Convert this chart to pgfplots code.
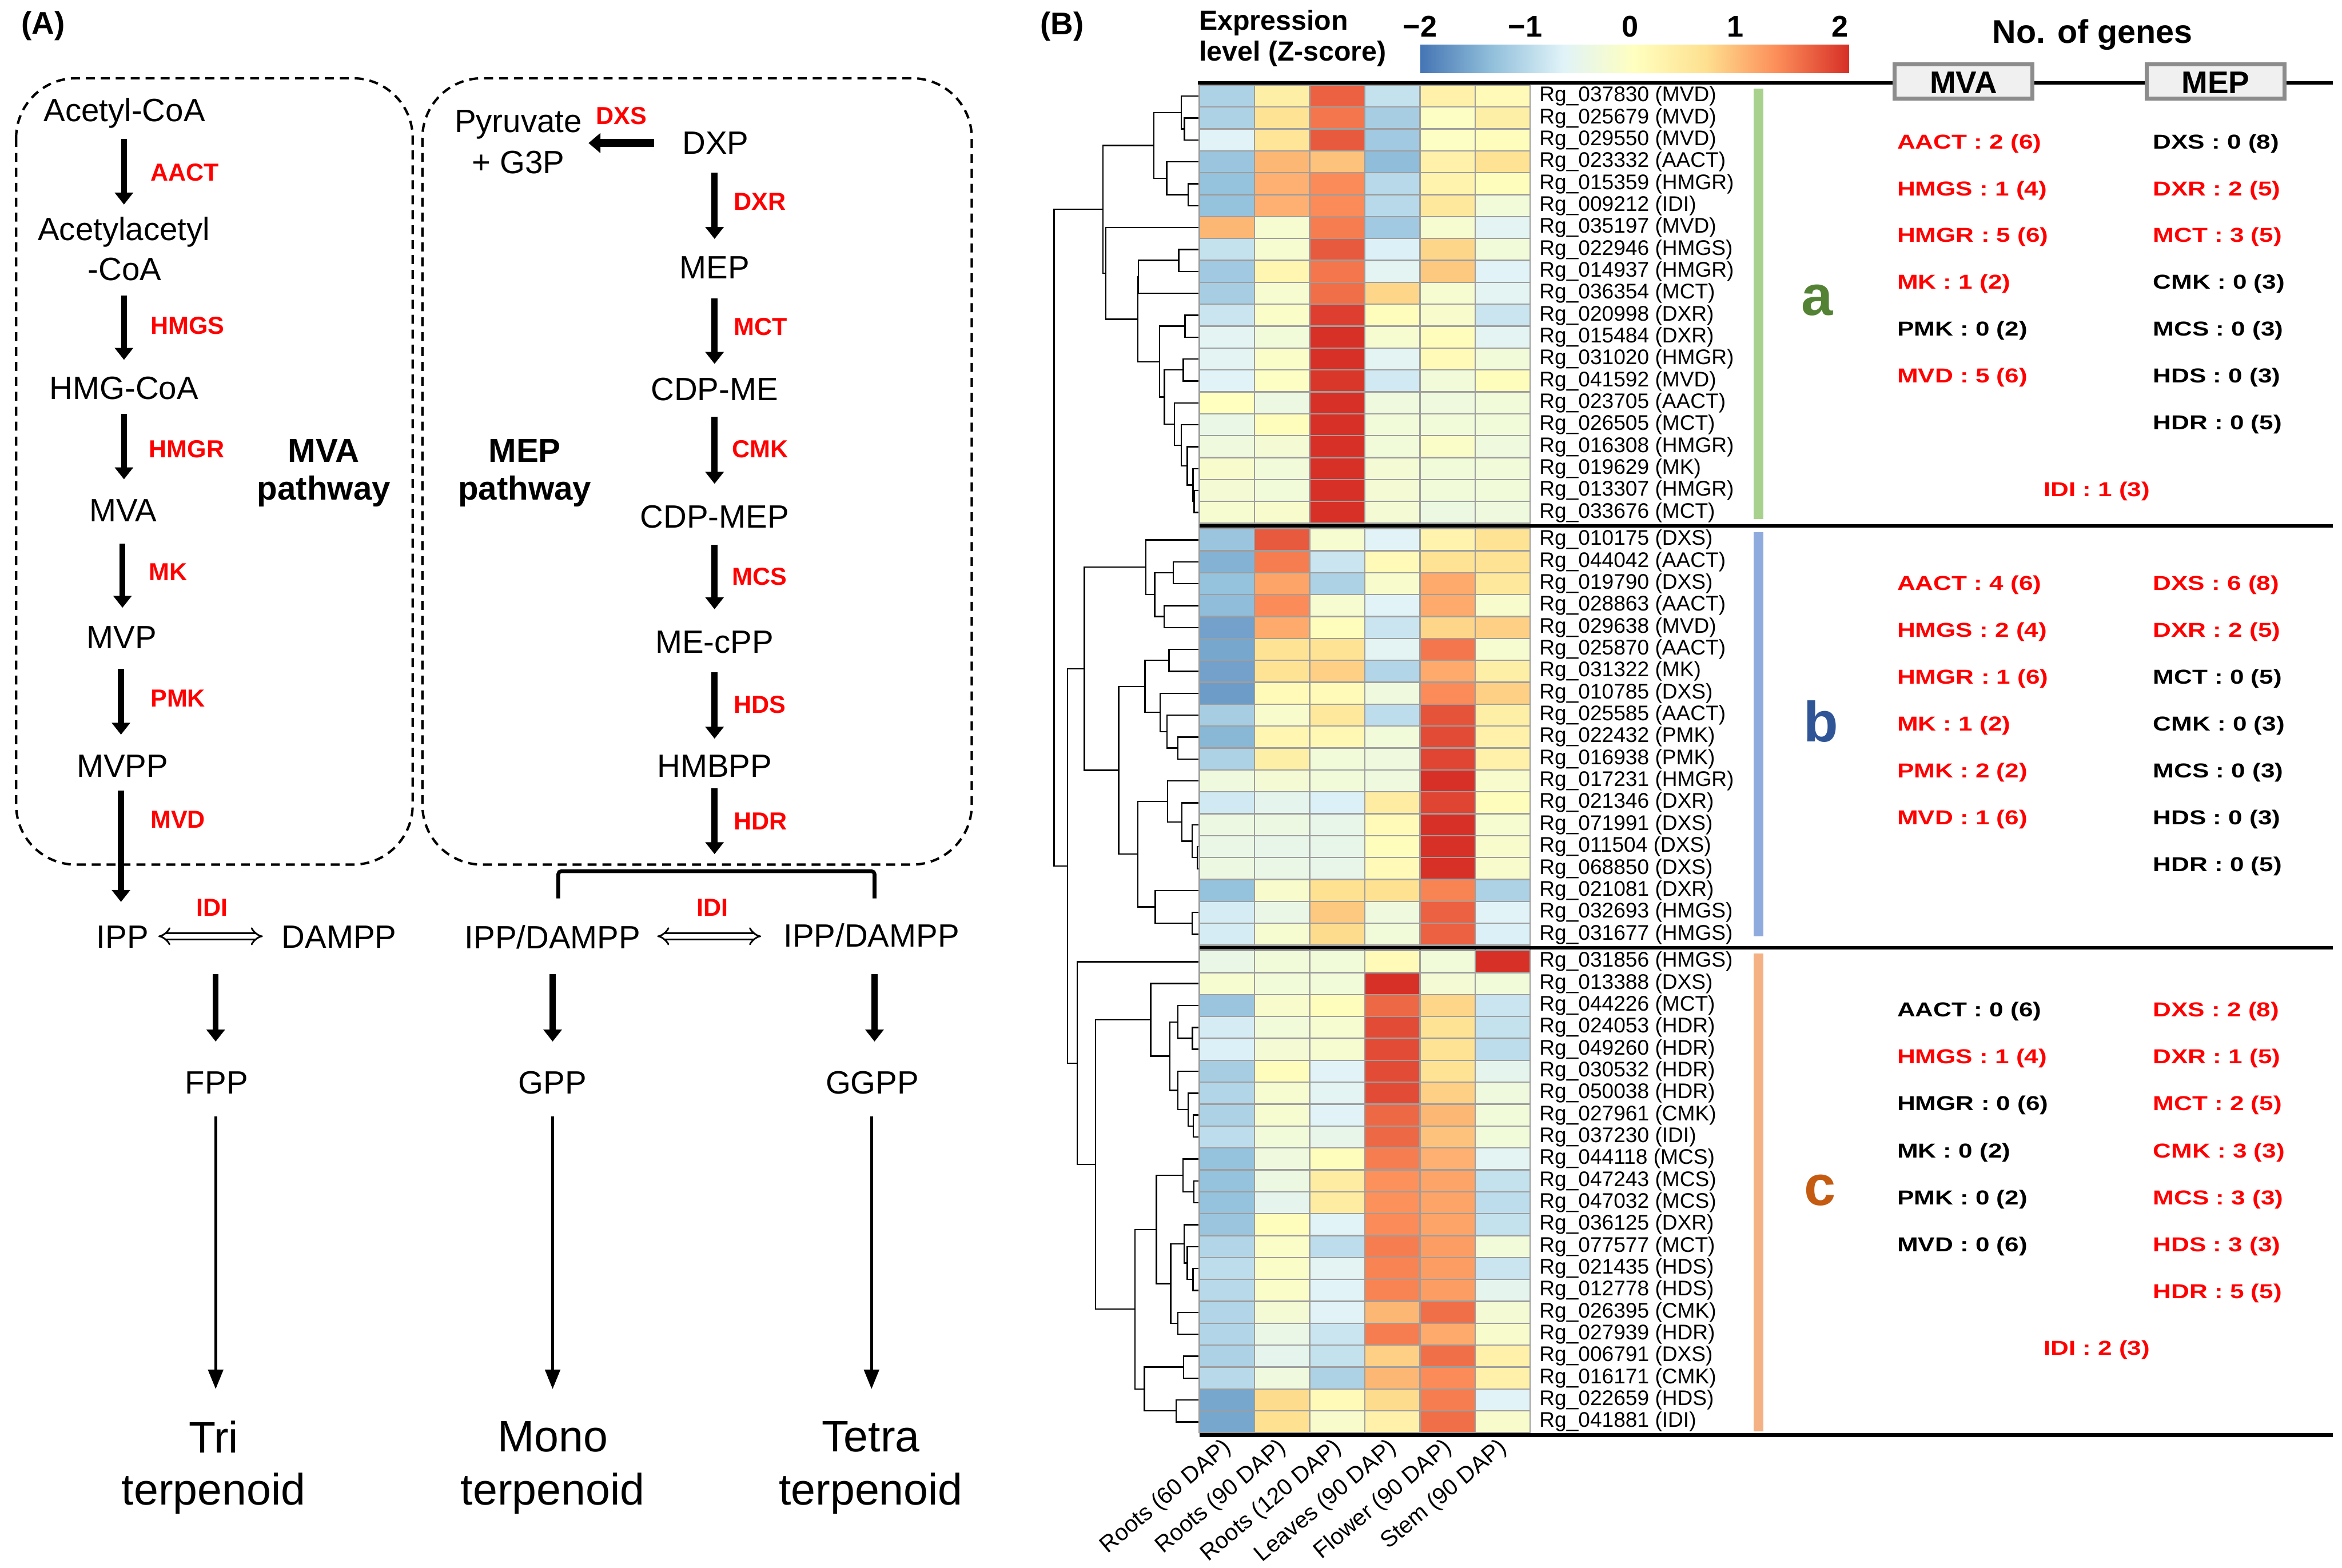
\documentclass[border=0pt]{standalone}
\usepackage{pgfplots}
\pgfplotsset{compat=1.18}
\usepackage{fontspec}
\setmainfont{Liberation Sans}
\newfontfamily\widefont[FakeStretch=1.25]{Liberation Sans}
\usetikzlibrary{arrows.meta}
\newcommand\fs[1]{\fontsize{#1}{#1}\selectfont}
\newcommand\gn[2]{Rg\_#1 (#2)}
\newcommand\dendro[5]{\addplot[black,line width=0.9pt,mark=none] coordinates {(#3,#2) (#1,#2) (#1,#4) (#5,#4)};}
\newcommand\rt{\widefont\bfseries\fs{13.5}}
\newcommand\R[3]{\node[anchor=west,text=#1] at (#2) {\rt #3};}
\definecolor{cga}{HTML}{A9D18E}
\definecolor{cgb}{HTML}{8FAADC}
\definecolor{cgc}{HTML}{F4B183}
\definecolor{lta}{HTML}{548235}
\definecolor{ltb}{HTML}{2F5597}
\definecolor{ltc}{HTML}{C55A11}
\pgfplotsset{
  rdylbu/.style={colormap={rdylbu}{rgb255(0cm)=(69,117,180); rgb255(1cm)=(145,191,219); rgb255(2cm)=(224,243,248); rgb255(3cm)=(255,255,191); rgb255(4cm)=(254,224,144); rgb255(5cm)=(252,141,89); rgb255(6cm)=(215,48,39)},
  point meta min=-2, point meta max=2}
}
\tikzset{
  thk/.style={line width=4pt, -{Triangle[width=12pt,length=8pt]}},
  thn/.style={line width=1.8pt, -{Triangle[width=10pt,length=13pt]}},
  dbl/.style={double, double distance=3pt, line width=1.1pt, {Implies}-{Implies}},
  enz/.style={text=red, font=\bfseries\fs{16.5}},
  mol/.style={font=\fs{21.6}}
}
\begin{document}
\begin{tikzpicture}[x=1pt,y=-1pt, every node/.style={inner sep=0pt}]
\useasboundingbox (0,0) rectangle (1568,1050);
% ---------------- Panel A ----------------
\node[font=\bfseries\fs{21}] at (29,17.5) {(A)};
\draw[line width=1.6pt, dash pattern=on 6pt off 4pt, rounded corners=40pt] (10.8,52.4) rectangle (276.3,579);
\draw[line width=1.6pt, dash pattern=on 6pt off 4pt, rounded corners=40pt] (282.8,52.4) rectangle (650.6,579);
% MVA column
\node[mol] at (83.3,75.7) {Acetyl-CoA};
\draw[thk] (83,93) -- (83,137);
\node[enz,anchor=west] at (100.6,115.6) {AACT};
\node[mol] at (83,155.5) {Acetylacetyl};
\node[mol] at (83.5,180.5) {-CoA};
\draw[thk] (83,198) -- (83,241);
\node[enz,anchor=west] at (100.6,218) {HMGS};
\node[mol] at (83,260) {HMG-CoA};
\draw[thk] (83,277) -- (83,321);
\node[enz,anchor=west] at (99.5,300.7) {HMGR};
\node[mol] at (82.4,342) {MVA};
\draw[thk] (82,364) -- (82,407);
\node[enz,anchor=west] at (99.5,383) {MK};
\node[mol] at (81.5,426.8) {MVP};
\draw[thk] (81,448) -- (81,492);
\node[enz,anchor=west] at (100.6,467.5) {PMK};
\node[mol] at (82,513) {MVPP};
\draw[thk] (81,529.6) -- (81,604);
\node[enz,anchor=west] at (100.6,549) {MVD};
\node[font=\bfseries\fs{22.3}] at (216.8,301.9) {MVA};
\node[font=\bfseries\fs{22.3}] at (216.8,329) {pathway};
\node[font=\bfseries\fs{22.3}] at (351.3,302) {MEP};
\node[font=\bfseries\fs{22.3}] at (351.3,329) {pathway};
% MEP column
\node[mol] at (347,83.4) {Pyruvate};
\node[mol] at (347,108.6) {+ G3P};
\node[enz] at (416,77.6) {DXS};
\draw[line width=5.5pt, -{Triangle[width=13pt,length=8pt]}] (438,95.8) -- (394,95.8);
\node[mol] at (479,95.8) {DXP};
\draw[thk] (478.4,115.6) -- (478.4,160);
\node[enz,anchor=west] at (491,135) {DXR};
\node[mol] at (478.4,179) {MEP};
\draw[thk] (478.4,199.8) -- (478.4,243.7);
\node[enz,anchor=west] at (491,219) {MCT};
\node[mol] at (478.4,260.7) {CDP-ME};
\draw[thk] (478.4,279) -- (478.4,324);
\node[enz,anchor=west] at (490,300.7) {CMK};
\node[mol] at (478.4,346) {CDP-MEP};
\draw[thk] (478.4,364.7) -- (478.4,408);
\node[enz,anchor=west] at (490,386) {MCS};
\node[mol] at (478.4,430) {ME-cPP};
\draw[thk] (478.4,450) -- (478.4,494.7);
\node[enz,anchor=west] at (491,472) {HDS};
\node[mol] at (478.4,513) {HMBPP};
\draw[thk] (478.4,528) -- (478.4,572);
\node[enz,anchor=west] at (491,550) {HDR};
% lower part
\node[mol] at (82,627.5) {IPP};
\draw[dbl] (106,627) -- (176,627);
\node[enz] at (142,607.7) {IDI};
\node[mol] at (227,627.5) {DAMPP};
\draw[line width=2.5pt, rounded corners=2pt] (373.8,601.6) -- (373.8,583.4) -- (585.5,583.4) -- (585.5,601.6);
\node[mol] at (370,627.5) {IPP/DAMPP};
\draw[dbl] (440,627) -- (509.6,627);
\node[enz] at (477,607.7) {IDI};
\node[mol] at (583.4,626.5) {IPP/DAMPP};
\draw[thk] (144.4,652.4) -- (144.4,697.5);
\draw[thk] (370,652.4) -- (370,697.5);
\draw[thk] (585.5,652.4) -- (585.5,697.5);
\node[mol] at (145,724.9) {FPP};
\node[mol] at (370,724.9) {GPP};
\node[mol] at (584,724.9) {GGPP};
\draw[thn] (144.4,747.7) -- (144.4,930.2);
\draw[thn] (370,747.7) -- (370,930.2);
\draw[thn] (583.5,747.7) -- (583.5,930.2);
\node[font=\fs{29.5}] at (143,962.2) {Tri};
\node[font=\fs{29.5}] at (143,1000.3) {terpenoid};
\node[font=\fs{29.5}] at (370,962.2) {Mono};
\node[font=\fs{29.5}] at (370,1000.3) {terpenoid};
\node[font=\fs{29.5}] at (583,962.2) {Tetra};
\node[font=\fs{29.5}] at (583,1000.3) {terpenoid};
% ---------------- Panel B ----------------
\node[font=\bfseries\fs{21}] at (711,17.9) {(B)};
\node[anchor=west,font=\bfseries\fs{18.5}] at (802.6,15.5) {Expression};
\node[anchor=west,font=\bfseries\fs{18.5}] at (802.6,36) {level (Z-score)};
\node[font=\bfseries\fs{22}] at (1401,23.3) {No. of genes};
% colour bar
\begin{axis}[at={(950.8pt,-48.9pt)}, anchor=south west, scale only axis,
  width=286.9pt, height=19.1pt, xmin=-2, xmax=2.08, ymin=0, ymax=1,
  rdylbu, axis line style={draw=none}, major tick length=0pt,
  ytick=\empty, xtick={-2,-1,0,1,2},
  xticklabels={−2,−1,0,1,2}, xticklabel pos=upper,
  xticklabel style={font=\bfseries\fs{20}, anchor=base, yshift=5pt}]
\addplot[surf, shader=interp, point meta=x, mesh/cols=2] coordinates {(-2,0) (2.08,0) (-2,1) (2.08,1)};
\end{axis}
% dendrogram
\begin{axis}[at={(702.7pt,-57pt)}, anchor=north west, scale only axis,
  width=100.2pt, height=902.5pt, xmin=100, xmax=940, ymin=-0.5, ymax=61,
  y dir=reverse, hide axis, clip=false]
\dendro{857}{1}{940}{2}{940}
\dendro{840}{0}{940}{1.5}{857}
\dendro{878}{4}{940}{5}{940}
\dendro{757}{3}{940}{4.5}{878}
\dendro{685}{0.75}{840}{3.75}{757}
\dendro{825}{7}{940}{8}{940}
\dendro{598}{7.5}{825}{9}{940}
\dendro{860}{10}{940}{11}{940}
\dendro{850}{12}{940}{13}{940}
\dendro{912}{18}{940}{19}{940}
\dendro{905}{17}{940}{18.5}{912}
\dendro{873}{16}{940}{17.75}{905}
\dendro{840}{15}{940}{16.875}{873}
\dendro{800}{14}{940}{15.94}{840}
\dendro{745}{12.5}{850}{14.97}{800}
\dendro{718}{10.5}{860}{13.73}{745}
\dendro{595}{8.25}{598}{12.12}{718}
\dendro{415}{6}{940}{10.18}{595}
\dendro{400}{2.25}{685}{8.09}{415}
\dendro{795}{21.25}{940}{22.25}{940}
\dendro{742}{23.25}{940}{24.25}{940}
\dendro{690}{21.75}{795}{23.75}{742}
\dendro{640}{20.25}{940}{22.75}{690}
\dendro{770}{25.25}{940}{26.25}{940}
\dendro{820}{29.25}{940}{30.25}{940}
\dendro{760}{28.25}{940}{29.75}{820}
\dendro{720}{27.25}{940}{29}{760}
\dendro{635}{25.75}{770}{28.125}{720}
\dendro{930}{34.25}{940}{35.25}{940}
\dendro{900}{33.25}{940}{34.75}{930}
\dendro{843}{32.25}{940}{34}{900}
\dendro{762}{31.25}{940}{33.125}{843}
\dendro{900}{37.25}{940}{38.25}{940}
\dendro{693}{36.25}{940}{37.75}{900}
\dendro{595}{32.19}{762}{37}{693}
\dendro{488}{26.94}{635}{34.59}{595}
\dendro{295}{21.5}{640}{30.77}{488}
\dendro{902}{42.5}{940}{43.5}{940}
\dendro{820}{41.5}{940}{43}{902}
\dendro{907}{46.5}{940}{47.5}{940}
\dendro{878}{45.5}{940}{47}{907}
\dendro{820}{44.5}{940}{46.25}{878}
\dendro{775}{42.25}{820}{45.375}{820}
\dendro{668}{40.5}{940}{43.81}{775}
\dendro{910}{49.5}{940}{50.5}{940}
\dendro{848}{48.5}{940}{50}{910}
\dendro{905}{53.5}{940}{54.5}{940}
\dendro{873}{52.5}{940}{54}{905}
\dendro{855}{51.5}{940}{53.25}{873}
\dendro{820}{55.5}{940}{56.5}{940}
\dendro{780}{52.375}{855}{56}{820}
\dendro{700}{49.25}{848}{54.19}{780}
\dendro{853}{57.5}{940}{58.5}{940}
\dendro{810}{59.5}{940}{60.5}{940}
\dendro{632}{58}{853}{60}{810}
\dendro{580}{51.72}{700}{59}{632}
\dendro{358}{42.16}{668}{55.36}{580}
\dendro{255}{39.5}{940}{48.76}{358}
\dendro{200}{26.135}{295}{44.13}{255}
\dendro{125}{5.17}{400}{35.13}{200}
\end{axis}
% heatmap
\begin{axis}[at={(803pt,-57pt)}, anchor=north west, scale only axis,
  width=221.5pt, height=902.5pt,
  xmin=-0.5, xmax=5.5, ymin=-0.5, ymax=61, y dir=reverse, enlargelimits=false,
  rdylbu, axis line style={draw=none},
  major tick length=0pt, minor tick length=0pt,
  xtick={0,...,5},
  xticklabels={Roots (60 DAP),Roots (90 DAP),Roots (120 DAP),Leaves (90 DAP),Flower (90 DAP),Stem (90 DAP)},
  xticklabel pos=lower,
  xticklabel style={font=\fs{15.5}, yshift=-8pt, xshift=1pt, rotate=40, anchor=east},
  ytick={0,...,19,20.25,21.25,...,38.25,39.5,40.5,...,60.5},
  yticklabels={\gn{037830}{MVD},\gn{025679}{MVD},\gn{029550}{MVD},\gn{023332}{AACT},\gn{015359}{HMGR},\gn{009212}{IDI},\gn{035197}{MVD},\gn{022946}{HMGS},\gn{014937}{HMGR},\gn{036354}{MCT},\gn{020998}{DXR},\gn{015484}{DXR},\gn{031020}{HMGR},\gn{041592}{MVD},\gn{023705}{AACT},\gn{026505}{MCT},\gn{016308}{HMGR},\gn{019629}{MK},\gn{013307}{HMGR},\gn{033676}{MCT},
  \gn{010175}{DXS},\gn{044042}{AACT},\gn{019790}{DXS},\gn{028863}{AACT},\gn{029638}{MVD},\gn{025870}{AACT},\gn{031322}{MK},\gn{010785}{DXS},\gn{025585}{AACT},\gn{022432}{PMK},\gn{016938}{PMK},\gn{017231}{HMGR},\gn{021346}{DXR},\gn{071991}{DXS},\gn{011504}{DXS},\gn{068850}{DXS},\gn{021081}{DXR},\gn{032693}{HMGS},\gn{031677}{HMGS},
  \gn{031856}{HMGS},\gn{013388}{DXS},\gn{044226}{MCT},\gn{024053}{HDR},\gn{049260}{HDR},\gn{030532}{HDR},\gn{050038}{HDR},\gn{027961}{CMK},\gn{037230}{IDI},\gn{044118}{MCS},\gn{047243}{MCS},\gn{047032}{MCS},\gn{036125}{DXR},\gn{077577}{MCT},\gn{021435}{HDS},\gn{012778}{HDS},\gn{026395}{CMK},\gn{027939}{HDR},\gn{006791}{DXS},\gn{016171}{CMK},\gn{022659}{HDS},\gn{041881}{IDI}},
  yticklabel pos=right,
  yticklabel style={anchor=west, font=\fs{14.2}, xshift=6pt},
  minor xtick={-0.5,0.5,...,5.5},
  minor ytick={-0.5,0.5,...,19.5,19.75,20.75,...,38.75,39,40,...,61},
  xminorgrids=true, yminorgrids=true,
  minor grid style={draw=black!38, line width=0.9pt},
  axis on top]
\addplot[matrix plot*, mesh/cols=6, point meta=explicit] coordinates {
(0,0)[-1.1] (1,0)[0.35] (2,0)[1.65] (3,0)[-0.9] (4,0)[0.3] (5,0)[0.1]
(0,1)[-1.1] (1,1)[0.6] (2,1)[1.5] (3,1)[-1.15] (4,1)[-0.05] (5,1)[0.35]
(0,2)[-0.65] (1,2)[0.55] (2,2)[1.7] (3,2)[-1.2] (4,2)[-0.05] (5,2)[0.05]
(0,3)[-1.25] (1,3)[1.0] (2,3)[0.9] (3,3)[-1.35] (4,3)[0.3] (5,3)[0.6]
(0,4)[-1.3] (1,4)[1.05] (2,4)[1.35] (3,4)[-1.0] (4,4)[0.25] (5,4)[0.05]
(0,5)[-1.3] (1,5)[1.05] (2,5)[1.35] (3,5)[-1.0] (4,5)[0.5] (5,5)[-0.3]
(0,6)[1.0] (1,6)[-0.2] (2,6)[1.45] (3,6)[-1.2] (4,6)[-0.2] (5,6)[-0.6]
(0,7)[-0.9] (1,7)[-0.2] (2,7)[1.7] (3,7)[-0.7] (4,7)[0.75] (5,7)[-0.3]
(0,8)[-1.2] (1,8)[0.2] (2,8)[1.5] (3,8)[-0.6] (4,8)[0.85] (5,8)[-0.65]
(0,9)[-1.15] (1,9)[-0.2] (2,9)[1.55] (3,9)[0.75] (4,9)[-0.2] (5,9)[-0.6]
(0,10)[-0.85] (1,10)[-0.1] (2,10)[1.9] (3,10)[0.05] (4,10)[-0.15] (5,10)[-0.85]
(0,11)[-0.6] (1,11)[-0.3] (2,11)[2.0] (3,11)[-0.2] (4,11)[0.05] (5,11)[-0.6]
(0,12)[-0.6] (1,12)[-0.1] (2,12)[2.0] (3,12)[-0.6] (4,12)[0.1] (5,12)[-0.3]
(0,13)[-0.65] (1,13)[-0.05] (2,13)[1.95] (3,13)[-0.8] (4,13)[-0.3] (5,13)[0.05]
(0,14)[0.0] (1,14)[-0.4] (2,14)[2.0] (3,14)[-0.35] (4,14)[-0.35] (5,14)[-0.3]
(0,15)[-0.45] (1,15)[0.05] (2,15)[2.0] (3,15)[-0.3] (4,15)[-0.3] (5,15)[-0.3]
(0,16)[-0.35] (1,16)[-0.25] (2,16)[2.0] (3,16)[-0.3] (4,16)[-0.1] (5,16)[-0.35]
(0,17)[-0.15] (1,17)[-0.3] (2,17)[2.0] (3,17)[-0.25] (4,17)[-0.3] (5,17)[-0.3]
(0,18)[-0.25] (1,18)[-0.3] (2,18)[2.0] (3,18)[-0.25] (4,18)[-0.3] (5,18)[-0.3]
(0,19)[-0.2] (1,19)[-0.15] (2,19)[2.0] (3,19)[-0.25] (4,19)[-0.4] (5,19)[-0.35]
};
\addplot[matrix plot*, mesh/cols=6, point meta=explicit] coordinates {
(0,20.25)[-1.25] (1,20.25)[1.7] (2,20.25)[-0.2] (3,20.25)[-0.65] (4,20.25)[0.25] (5,20.25)[0.6]
(0,21.25)[-1.45] (1,21.25)[1.45] (2,21.25)[-0.85] (3,21.25)[0.1] (4,21.25)[0.6] (5,21.25)[0.6]
(0,22.25)[-1.3] (1,22.25)[1.15] (2,22.25)[-1.1] (3,22.25)[-0.15] (4,22.25)[1.1] (5,22.25)[0.5]
(0,23.25)[-1.35] (1,23.25)[1.35] (2,23.25)[-0.2] (3,23.25)[-0.65] (4,23.25)[1.1] (5,23.25)[-0.15]
(0,24.25)[-1.6] (1,24.25)[1.1] (2,24.25)[0.05] (3,24.25)[-0.85] (4,24.25)[0.75] (5,24.25)[0.8]
(0,25.25)[-1.55] (1,25.25)[0.6] (2,25.25)[0.6] (3,25.25)[-0.6] (4,25.25)[1.5] (5,25.25)[-0.2]
(0,26.25)[-1.6] (1,26.25)[0.6] (2,26.25)[0.8] (3,26.25)[-1.05] (4,26.25)[1.1] (5,26.25)[0.35]
(0,27.25)[-1.65] (1,27.25)[0.1] (2,27.25)[0.1] (3,27.25)[-0.35] (4,27.25)[1.35] (5,27.25)[0.8]
(0,28.25)[-1.15] (1,28.25)[-0.15] (2,28.25)[0.5] (3,28.25)[-0.95] (4,28.25)[1.75] (5,28.25)[0.35]
(0,29.25)[-1.4] (1,29.25)[0.2] (2,29.25)[0.15] (3,29.25)[-0.3] (4,29.25)[1.8] (5,29.25)[0.3]
(0,30.25)[-1.1] (1,30.25)[0.35] (2,30.25)[-0.3] (3,30.25)[-0.35] (4,30.25)[1.85] (5,30.25)[0.3]
(0,31.25)[-0.35] (1,31.25)[-0.25] (2,31.25)[-0.3] (3,31.25)[-0.35] (4,31.25)[2.0] (5,31.25)[-0.15]
(0,32.25)[-0.8] (1,32.25)[-0.55] (2,32.25)[-0.7] (3,32.25)[0.4] (4,32.25)[1.85] (5,32.25)[0.05]
(0,33.25)[-0.4] (1,33.25)[-0.4] (2,33.25)[-0.5] (3,33.25)[0.1] (4,33.25)[2.0] (5,33.25)[-0.2]
(0,34.25)[-0.45] (1,34.25)[-0.5] (2,34.25)[-0.5] (3,34.25)[0.05] (4,34.25)[2.0] (5,34.25)[-0.15]
(0,35.25)[-0.4] (1,35.25)[-0.45] (2,35.25)[-0.5] (3,35.25)[0.1] (4,35.25)[2.0] (5,35.25)[-0.15]
(0,36.25)[-1.3] (1,36.25)[-0.15] (2,36.25)[0.65] (3,36.25)[0.65] (4,36.25)[1.4] (5,36.25)[-1.1]
(0,37.25)[-0.75] (1,37.25)[-0.45] (2,37.25)[0.85] (3,37.25)[-0.35] (4,37.25)[1.65] (5,37.25)[-0.65]
(0,38.25)[-0.75] (1,38.25)[-0.2] (2,38.25)[0.7] (3,38.25)[-0.3] (4,38.25)[1.65] (5,38.25)[-0.7]
};
\addplot[matrix plot*, mesh/cols=6, point meta=explicit] coordinates {
(0,39.5)[-0.45] (1,39.5)[-0.3] (2,39.5)[-0.3] (3,39.5)[0.1] (4,39.5)[-0.3] (5,39.5)[2.0]
(0,40.5)[-0.2] (1,40.5)[-0.3] (2,40.5)[-0.3] (3,40.5)[2.0] (4,40.5)[-0.25] (5,40.5)[-0.3]
(0,41.5)[-1.25] (1,41.5)[-0.15] (2,41.5)[0.05] (3,41.5)[1.6] (4,41.5)[0.75] (5,41.5)[-0.85]
(0,42.5)[-0.75] (1,42.5)[-0.3] (2,42.5)[-0.2] (3,42.5)[1.8] (4,42.5)[0.6] (5,42.5)[-0.9]
(0,43.5)[-0.7] (1,43.5)[-0.25] (2,43.5)[-0.2] (3,43.5)[1.8] (4,43.5)[0.6] (5,43.5)[-0.95]
(0,44.5)[-1.15] (1,44.5)[0.05] (2,44.5)[-0.65] (3,44.5)[1.8] (4,44.5)[0.6] (5,44.5)[-0.55]
(0,45.5)[-1.05] (1,45.5)[-0.2] (2,45.5)[-0.6] (3,45.5)[1.8] (4,45.5)[0.8] (5,45.5)[-0.35]
(0,46.5)[-1.1] (1,46.5)[-0.2] (2,46.5)[-0.65] (3,46.5)[1.6] (4,46.5)[1.0] (5,46.5)[-0.3]
(0,47.5)[-0.95] (1,47.5)[-0.3] (2,47.5)[-0.5] (3,47.5)[1.6] (4,47.5)[0.9] (5,47.5)[-0.3]
(0,48.5)[-1.3] (1,48.5)[-0.35] (2,48.5)[0.05] (3,48.5)[1.45] (4,48.5)[1.05] (5,48.5)[-0.6]
(0,49.5)[-1.3] (1,49.5)[-0.4] (2,49.5)[0.4] (3,49.5)[1.3] (4,49.5)[1.15] (5,49.5)[-0.9]
(0,50.5)[-1.3] (1,50.5)[-0.55] (2,50.5)[0.4] (3,50.5)[1.3] (4,50.5)[1.15] (5,50.5)[-0.95]
(0,51.5)[-1.25] (1,51.5)[0.05] (2,51.5)[-0.65] (3,51.5)[1.35] (4,51.5)[1.15] (5,51.5)[-0.9]
(0,52.5)[-1.05] (1,52.5)[-0.1] (2,52.5)[-0.95] (3,52.5)[1.45] (4,52.5)[1.2] (5,52.5)[-0.3]
(0,53.5)[-0.95] (1,53.5)[-0.1] (2,53.5)[-0.6] (3,53.5)[1.4] (4,53.5)[1.2] (5,53.5)[-0.85]
(0,54.5)[-1.0] (1,54.5)[-0.1] (2,54.5)[-0.65] (3,54.5)[1.4] (4,54.5)[1.2] (5,54.5)[-0.55]
(0,55.5)[-1.05] (1,55.5)[-0.25] (2,55.5)[-0.65] (3,55.5)[1.0] (4,55.5)[1.55] (5,55.5)[-0.25]
(0,56.5)[-1.05] (1,56.5)[-0.45] (2,56.5)[-0.85] (3,56.5)[1.45] (4,56.5)[1.1] (5,56.5)[-0.15]
(0,57.5)[-1.1] (1,57.5)[-0.55] (2,57.5)[-0.9] (3,57.5)[0.8] (4,57.5)[1.55] (5,57.5)[0.3]
(0,58.5)[-1.0] (1,58.5)[-0.35] (2,58.5)[-1.1] (3,58.5)[1.0] (4,58.5)[1.35] (5,58.5)[0.3]
(0,59.5)[-1.55] (1,59.5)[0.7] (2,59.5)[0.1] (3,59.5)[0.7] (4,59.5)[1.45] (5,59.5)[-0.65]
(0,60.5)[-1.55] (1,60.5)[0.65] (2,60.5)[-0.15] (3,60.5)[0.3] (4,60.5)[1.55] (5,60.5)[-0.15]
};
\end{axis}
% separators
\draw[line width=2.6pt] (802,55.5) -- (1562,55.5);
\draw[line width=2.2pt] (803,352.3) -- (1562,352.3);
\draw[line width=2.2pt] (803,634.8) -- (1562,634.8);
\draw[line width=2.6pt] (803,961) -- (1562,961);
% header boxes
\draw[draw=black!45, line width=2.5pt, fill=black!6] (1268.5,43) rectangle (1360.7,66);
\node[font=\bfseries\fs{21}] at (1314.6,55.5) {MVA};
\draw[draw=black!45, line width=2.5pt, fill=black!6] (1437.3,43) rectangle (1529.6,66);
\node[font=\bfseries\fs{21}] at (1483.4,55.5) {MEP};
% cluster bars
\fill[cga] (1174,59.4) rectangle (1180.5,347.6);
\fill[cgb] (1174,356.3) rectangle (1180.5,627);
\fill[cgc] (1174,638.5) rectangle (1180.5,958.7);
\node[font=\bfseries\fs{38}, text=lta] at (1216.6,201) {a};
\node[font=\bfseries\fs{38}, text=ltb] at (1219,483) {b};
\node[font=\bfseries\fs{38}, text=ltc] at (1218.5,797) {c};
% cluster a text
\R{red}{1270,96.2}{AACT : 2 (6)}
\R{red}{1270,127.6}{HMGS : 1 (4)}
\R{red}{1270,158.5}{HMGR : 5 (6)}
\R{red}{1270,189.9}{MK : 1 (2)}
\R{black}{1270,221.3}{PMK : 0 (2)}
\R{red}{1270,252.7}{MVD : 5 (6)}
\R{black}{1441.3,96.2}{DXS : 0 (8)}
\R{red}{1441.3,127.6}{DXR : 2 (5)}
\R{red}{1441.3,158.5}{MCT : 3 (5)}
\R{black}{1441.3,189.9}{CMK : 0 (3)}
\R{black}{1441.3,221.3}{MCS : 0 (3)}
\R{black}{1441.3,252.7}{HDS : 0 (3)}
\R{black}{1441.3,284.2}{HDR : 0 (5)}
\node[text=red] at (1403.8,329) {\rt IDI : 1 (3)};
% cluster b text
\R{red}{1270,391.8}{AACT : 4 (6)}
\R{red}{1270,423.2}{HMGS : 2 (4)}
\R{red}{1270,454.6}{HMGR : 1 (6)}
\R{red}{1270,486}{MK : 1 (2)}
\R{red}{1270,517.4}{PMK : 2 (2)}
\R{red}{1270,548.8}{MVD : 1 (6)}
\R{red}{1441.3,391.8}{DXS : 6 (8)}
\R{red}{1441.3,423.2}{DXR : 2 (5)}
\R{black}{1441.3,454.6}{MCT : 0 (5)}
\R{black}{1441.3,486}{CMK : 0 (3)}
\R{black}{1441.3,517.4}{MCS : 0 (3)}
\R{black}{1441.3,548.8}{HDS : 0 (3)}
\R{black}{1441.3,580.2}{HDR : 0 (5)}
% cluster c text
\R{black}{1270,677.5}{AACT : 0 (6)}
\R{red}{1270,708.9}{HMGS : 1 (4)}
\R{black}{1270,740.3}{HMGR : 0 (6)}
\R{black}{1270,771.7}{MK : 0 (2)}
\R{black}{1270,803.1}{PMK : 0 (2)}
\R{black}{1270,834.5}{MVD : 0 (6)}
\R{red}{1441.3,677.5}{DXS : 2 (8)}
\R{red}{1441.3,708.9}{DXR : 1 (5)}
\R{red}{1441.3,740.3}{MCT : 2 (5)}
\R{red}{1441.3,771.7}{CMK : 3 (3)}
\R{red}{1441.3,803.1}{MCS : 3 (3)}
\R{red}{1441.3,834.5}{HDS : 3 (3)}
\R{red}{1441.3,865.9}{HDR : 5 (5)}
\node[text=red] at (1403.8,904) {\rt IDI : 2 (3)};
\end{tikzpicture}
\end{document}
